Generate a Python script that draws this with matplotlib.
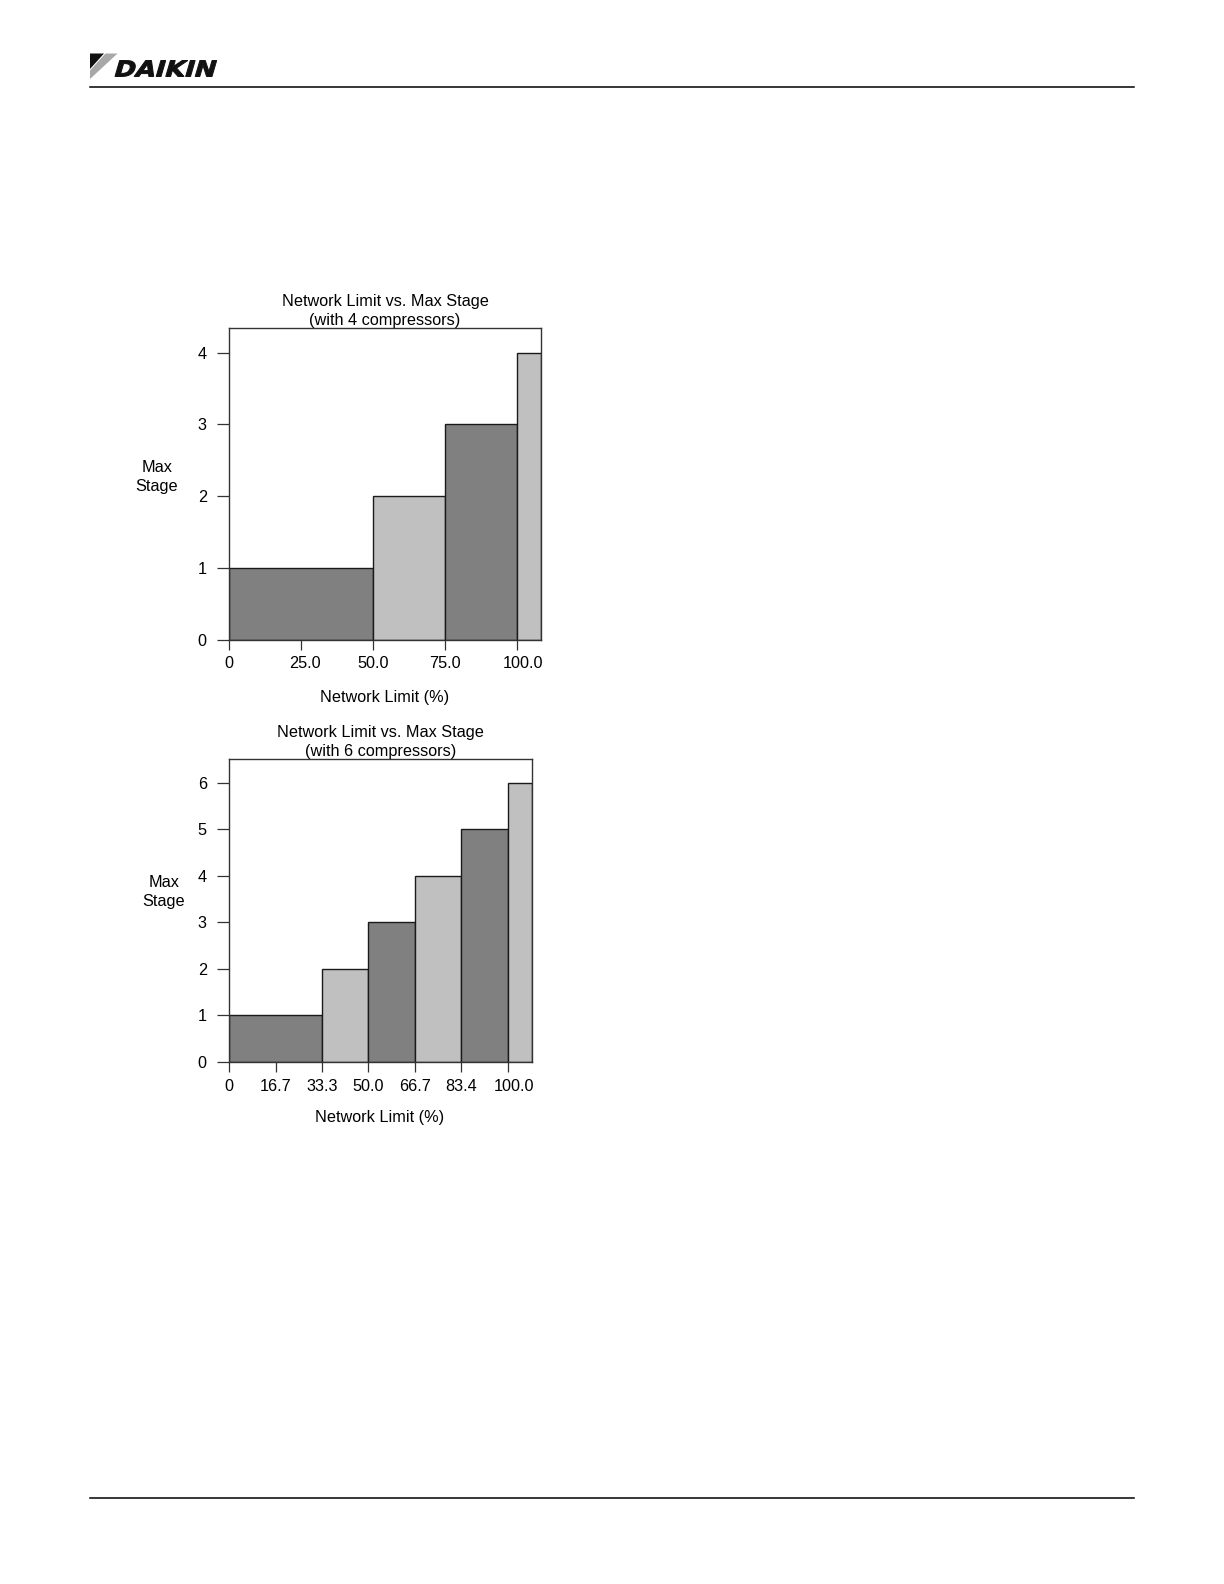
import matplotlib
matplotlib.use("Agg")
import matplotlib.pyplot as plt
from matplotlib.patches import Polygon, PathPatch
from matplotlib.textpath import TextPath
from matplotlib.font_manager import FontProperties
from matplotlib.transforms import Affine2D, ScaledTranslation

# ---------------- data ----------------
title4 = "Network Limit vs. Max Stage\n(with 4 compressors)"
edges4 = [0, 50.0, 75.0, 100.0, 108.3]
stages4 = [1, 2, 3, 4]
xticks4 = [0, 25.0, 50.0, 75.0, 100.0]
xticklabels4 = ["0", "25.0", "50.0", "75.0", "100.0"]
yticks4 = [0, 1, 2, 3, 4]
ymax4 = 4.34

title6 = "Network Limit vs. Max Stage\n(with 6 compressors)"
edges6 = [0, 33.3, 50.0, 66.7, 83.4, 100.0, 108.6]
stages6 = [1, 2, 3, 4, 5, 6]
xticks6 = [0, 16.7, 33.3, 50.0, 66.7, 83.4, 100.0]
xticklabels6 = ["0", "16.7", "33.3", "50.0", "66.7", "83.4", "100.0"]
yticks6 = [0, 1, 2, 3, 4, 5, 6]
ymax6 = 6.5

bar_colors = ["#808080", "#c0c0c0"]
xlabel = "Network Limit (%)"
ylabel = "Max\nStage"

plt.rcParams['font.family'] = ['Liberation Sans', 'DejaVu Sans']
FS = 11.7

W, H = 1224, 1584
fig = plt.figure(figsize=(W / 100, H / 100), dpi=100)


def px_axes(l, t, r, b):
    return fig.add_axes([l / W, 1 - b / H, (r - l) / W, (b - t) / H])


def draw_chart(ax, edges, stages, xticks, xticklabels, yticks, ymax, title,
               ylab_pos, xlab_pos, label_shift):
    lefts = edges[:-1]
    widths = [edges[i + 1] - edges[i] for i in range(len(stages))]
    cols = [bar_colors[i % 2] for i in range(len(stages))]
    ax.bar(lefts, stages, width=widths, align='edge', color=cols,
           edgecolor='#1a1a1a', linewidth=1.0, zorder=2)
    ax.set_xlim(edges[0], edges[-1])
    ax.set_ylim(0, ymax)
    ax.set_xticks(xticks)
    ax.set_xticklabels(xticklabels)
    ax.set_yticks(yticks)
    ax.set_yticklabels([str(v) for v in yticks])
    ax.tick_params(axis='y', length=9, width=0.9, pad=7, labelsize=FS,
                   color='#333333')
    ax.tick_params(axis='x', length=7.5, width=0.9, pad=4.5, labelsize=FS,
                   color='#333333')
    for lab in ax.get_xticklabels():
        dx = label_shift.get(lab.get_text(), 0)
        if dx:
            lab.set_transform(lab.get_transform() +
                              ScaledTranslation(dx / 100, 0, fig.dpi_scale_trans))
    for s in ax.spines.values():
        s.set_linewidth(1.0)
        s.set_color('#333333')
        s.set_zorder(3)
    ax.set_title(title, fontsize=FS, pad=1, linespacing=1.35)
    ax.text(ylab_pos[0], ylab_pos[1], ylabel, transform=ax.transAxes,
            ha='center', va='center', fontsize=FS, linespacing=1.35)
    ax.text(xlab_pos[0], xlab_pos[1], xlabel, transform=ax.transAxes,
            ha='center', va='center', fontsize=FS)


ax1 = px_axes(229, 328.3, 541, 639.7)
draw_chart(ax1, edges4, stages4, xticks4, xticklabels4, yticks4, ymax4,
           title4, (-0.232, 0.523), (0.5, -0.187), {"25.0": 4, "100.0": 6})

ax2 = px_axes(229, 759.3, 531.7, 1062)
draw_chart(ax2, edges6, stages6, xticks6, xticklabels6, yticks6, ymax6,
           title6, (-0.215, 0.562), (0.499, -0.185), {"100.0": 6})

# ---------------- page decorations ----------------
ov = fig.add_axes([0, 0, 1, 1], zorder=-1)
ov.set_xlim(0, W)
ov.set_ylim(H, 0)
ov.axis('off')
ov.patch.set_alpha(0)

ov.plot([90, 1134], [86.5, 86.5], color='black', lw=1.1)
ov.plot([90, 1134], [1497.5, 1497.5], color='black', lw=1.1)

# logo mark
ov.add_patch(Polygon([(90, 53.5), (104, 53.5), (90, 69)], closed=True,
                     facecolor='#111111', edgecolor='none'))
ov.add_patch(Polygon([(105.5, 53.5), (117.5, 53.5), (90, 79), (90, 70.5)],
                     closed=True, facecolor='#a8a8a8', edgecolor='none'))

# logo text
tp = TextPath((0, 0), "DAIKIN", size=1,
              prop=FontProperties(family='DejaVu Sans', weight='bold'))
bb = tp.get_extents()
target_w, target_h = 97.0, 16.0
sx = target_w / bb.width
sy = target_h / bb.height
tr = (Affine2D().translate(-bb.x0, -bb.y0).skew_deg(14, 0)
      .scale(sx, -sy).translate(115, 76.5))
ov.add_patch(PathPatch(tr.transform_path(tp), facecolor='#111111',
                       edgecolor='#111111', linewidth=0.7))

fig.savefig("out.png", dpi=100)
